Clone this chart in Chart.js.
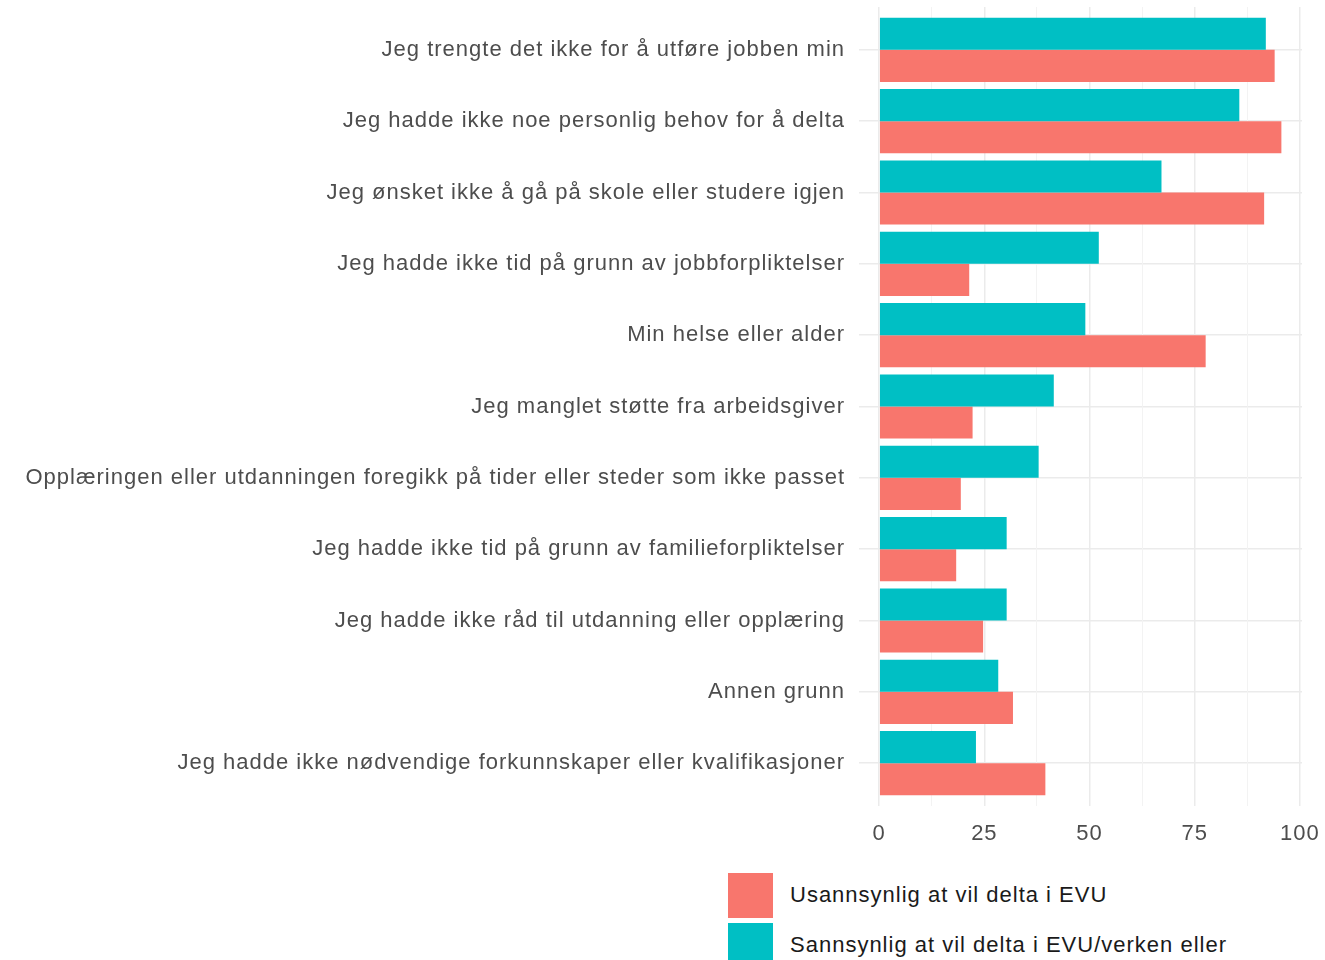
<!DOCTYPE html>
<html>
<head>
<meta charset="utf-8">
<script src="https://cdn.jsdelivr.net/npm/chart.js@4"></script>
<style>
  body { margin: 0; background: #fff; overflow: hidden; font-family: "Liberation Sans", Arial, sans-serif; }
  #wrap { position: relative; width: 1325px; height: 960px; }
  #chart { position: absolute; left: 0; top: 0; }
  .legend { position: absolute; left: 728px; top: 870px; }
  .item { display: flex; align-items: center; height: 50px; }
  .box { width: 45px; height: 45px; margin-right: 17px; }
  .lbl { font-size: 22px; color: #1a1a1a; letter-spacing: 1px; }
</style>
</head>
<body>
<div id="wrap">
  <canvas id="chart" width="1325" height="860"></canvas>
  <div class="legend" id="legend"></div>
</div>
<script>
const categories = [
    "Jeg trengte det ikke for å utføre jobben min",
    "Jeg hadde ikke noe personlig behov for å delta",
    "Jeg ønsket ikke å gå på skole eller studere igjen",
    "Jeg hadde ikke tid på grunn av jobbforpliktelser",
    "Min helse eller alder",
    "Jeg manglet støtte fra arbeidsgiver",
    "Opplæringen eller utdanningen foregikk på tider eller steder som ikke passet",
    "Jeg hadde ikke tid på grunn av familieforpliktelser",
    "Jeg hadde ikke råd til utdanning eller opplæring",
    "Annen grunn",
    "Jeg hadde ikke nødvendige forkunnskaper eller kvalifikasjoner"
];
const sannsynlig = [91.9, 85.6, 67.1, 52.2, 49.0, 41.5, 37.9, 30.3, 30.3, 28.3, 23.0];
const usannsynlig = [94.0, 95.6, 91.5, 21.4, 77.6, 22.2, 19.4, 18.3, 24.7, 31.8, 39.5];
const xTicks = [0, 12.5, 25, 37.5, 50, 62.5, 75, 87.5, 100];

const RED = "#F8766D";
const TEAL = "#00BFC4";

const toPoints = arr => arr.map((v, i) => ({ x: v, y: i }));

// the reference text is a bit wider than plain Liberation Sans
const spacing = {
    id: "spacing",
    beforeInit: chart => { chart.ctx.letterSpacing = "1px"; },
    beforeDraw: chart => { chart.ctx.letterSpacing = "1px"; }
};

new Chart(document.getElementById("chart").getContext("2d"), {
    type: "bar",
    plugins: [spacing],
    data: {
        datasets: [{
            label: "Sannsynlig at vil delta i EVU/verken eller",
            data: toPoints(sannsynlig),
            backgroundColor: TEAL
        }, {
            label: "Usannsynlig at vil delta i EVU",
            data: toPoints(usannsynlig),
            backgroundColor: RED
        }]
    },
    options: {
        indexAxis: "y",
        responsive: false,
        animation: false,
        categoryPercentage: 0.9,
        barPercentage: 1.0,
        layout: { padding: { top: 7, right: 23, left: 0, bottom: 0 } },
        plugins: { legend: { display: false }, tooltip: { enabled: false } },
        scales: {
            y: {
                type: "linear",
                reverse: true,
                offset: false,
                min: -0.6,
                max: categories.length - 0.4,
                afterBuildTicks: scale => { scale.ticks = categories.map((_, i) => ({ value: i })); },
                afterFit: scale => { scale.width = 859; scale.paddingTop = 0; scale.paddingBottom = 0; },
                ticks: {
                    autoSkip: false,
                    padding: 14,
                    color: "#4d4d4d",
                    font: { family: "'Liberation Sans', Arial, sans-serif", size: 22 },
                    callback: value => categories[value]
                },
                grid: { offset: false, color: "#ebebeb", lineWidth: 1.5, drawTicks: false },
                border: { display: false }
            },
            x: {
                type: "linear",
                min: -4.8,
                max: 100.5,
                afterBuildTicks: scale => { scale.ticks = xTicks.map(v => ({ value: v })); },
                afterFit: scale => { scale.height = 54; scale.paddingLeft = 0; scale.paddingRight = 0; },
                ticks: {
                    autoSkip: false,
                    maxRotation: 0,
                    padding: 15,
                    color: "#4d4d4d",
                    font: { family: "'Liberation Sans', Arial, sans-serif", size: 22 },
                    callback: value => (value % 25 === 0 ? String(value) : "")
                },
                grid: {
                    drawTicks: false,
                    color: ctx => (ctx.tick && ctx.tick.value % 25 === 0 ? "#ebebeb" : "#f3f3f3"),
                    lineWidth: ctx => (ctx.tick && ctx.tick.value % 25 === 0 ? 1.5 : 1)
                },
                border: { display: false }
            }
        }
    }
});

// legend in the same order as the reference
const legend = document.getElementById("legend");
[["Usannsynlig at vil delta i EVU", RED], ["Sannsynlig at vil delta i EVU/verken eller", TEAL]].forEach(([text, col]) => {
    const item = document.createElement("div");
    item.className = "item";
    item.innerHTML = `<div class="box" style="background:${col}"></div><span class="lbl">${text}</span>`;
    legend.appendChild(item);
});
</script>
</body>
</html>
